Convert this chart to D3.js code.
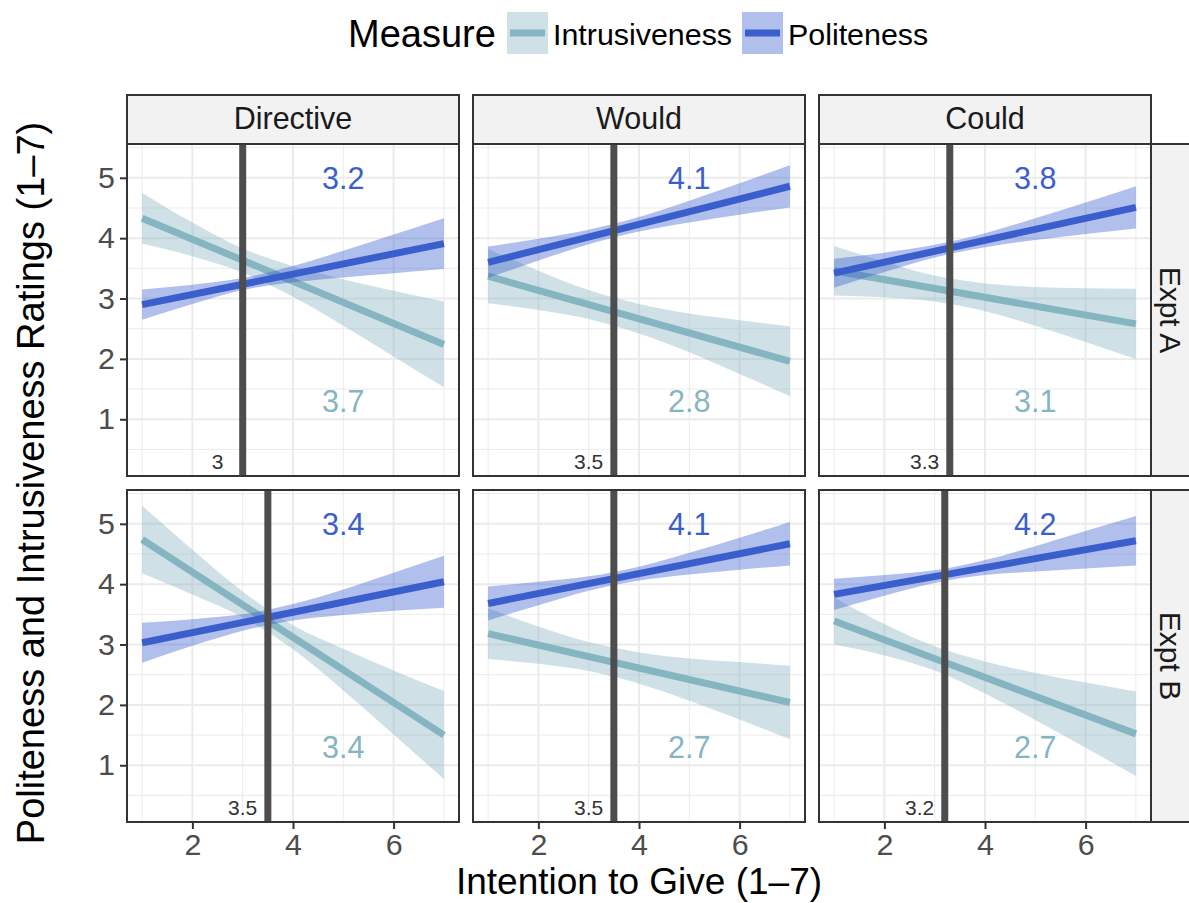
<!DOCTYPE html>
<html>
<head>
<meta charset="utf-8">
<script src="https://cdn.jsdelivr.net/npm/d3@7"></script>
<style>
  body { margin: 0; background: #fff; }
  svg text { font-family: "Liberation Sans", Arial, Helvetica, sans-serif; }
</style>
</head>
<body>
<svg id="chart"></svg>
<script>
// facets
const cols = ['Directive', 'Would', 'Could'];
const rows = ['Expt A', 'Expt B'];
const measures = ['Intrusiveness', 'Politeness'];

// x points for the smooth bands
const xPts = [1, 2, 3, 4, 5, 6, 7];

// panel order: A-Directive, A-Would, A-Could, B-Directive, B-Would, B-Could
// fitted line at x = 1 and x = 7
const polFit = [[2.90, 3.91], [3.60, 4.86], [3.42, 4.51], [3.03, 4.04], [3.68, 4.67], [3.83, 4.72]];
const intFit = [[4.33, 2.24], [3.37, 1.96], [3.46, 2.58], [4.74, 1.50], [3.18, 2.04], [3.39, 1.52]];

// confidence band, lower / upper at xPts
const polLo = [
  [2.65, 2.91, 3.14, 3.27, 3.35, 3.42, 3.49],
  [3.34, 3.63, 3.90, 4.11, 4.26, 4.39, 4.51],
  [3.18, 3.44, 3.68, 3.85, 3.97, 4.07, 4.16],
  [2.70, 2.98, 3.23, 3.40, 3.49, 3.56, 3.61],
  [3.40, 3.65, 3.89, 4.06, 4.16, 4.24, 4.31],
  [3.57, 3.81, 4.02, 4.15, 4.21, 4.26, 4.31]
];
const polHi = [
  [3.15, 3.23, 3.34, 3.54, 3.79, 4.06, 4.33],
  [3.86, 3.99, 4.14, 4.35, 4.62, 4.91, 5.21],
  [3.66, 3.76, 3.89, 4.08, 4.33, 4.59, 4.86],
  [3.36, 3.42, 3.50, 3.67, 3.91, 4.19, 4.47],
  [3.96, 4.04, 4.13, 4.29, 4.52, 4.77, 5.03],
  [4.09, 4.15, 4.23, 4.40, 4.63, 4.88, 5.13]
];
const intLo = [
  [3.91, 3.70, 3.43, 3.03, 2.55, 2.04, 1.53],
  [2.92, 2.81, 2.66, 2.42, 2.11, 1.75, 1.38],
  [3.05, 3.02, 2.95, 2.79, 2.55, 2.28, 2.00],
  [4.18, 3.83, 3.45, 2.92, 2.24, 1.51, 0.77],
  [2.76, 2.68, 2.56, 2.35, 2.07, 1.76, 1.43],
  [3.00, 2.82, 2.57, 2.19, 1.75, 1.29, 0.82]
];
const intHi = [
  [4.75, 4.26, 3.83, 3.54, 3.32, 3.13, 2.95],
  [3.82, 3.46, 3.14, 2.91, 2.75, 2.64, 2.54],
  [3.87, 3.61, 3.38, 3.25, 3.19, 3.17, 3.16],
  [5.30, 4.57, 3.88, 3.32, 2.93, 2.57, 2.23],
  [3.60, 3.30, 3.04, 2.87, 2.77, 2.71, 2.65],
  [3.78, 3.34, 2.97, 2.72, 2.53, 2.37, 2.22]
];

// vertical reference lines and text labels
const vline = [3, 3.5, 3.3, 3.5, 3.5, 3.2];
const polLabel = ['3.2', '4.1', '3.8', '3.4', '4.1', '4.2'];
const intLabel = ['3.7', '2.8', '3.1', '3.4', '2.7', '2.7'];
const polLabelPos = [5, 5];
const intLabelPos = [5, 1.3];
const vlineLabelY = 0.3;

const xTicks = [2, 4, 6];
const xMinor = [1, 3, 5, 7];
const yTicks = [1, 2, 3, 4, 5];
const yMinor = [0.5, 1.5, 2.5, 3.5, 4.5, 5.5];

const width = 1189;
const height = 903;
const panelW = 332;
const panelH = 332;
const colLeft = [127, 473, 819];
const rowTop = [144, 490];

const polColor = '#3A5FCD';
const intColor = '#86B5C2';

const svg = d3.select('#chart').attr('width', width).attr('height', height);

const xScale = d3.scaleLinear().domain([0.7, 7.3]).range([0, panelW]);
const yScale = d3.scaleLinear().domain([0.06, 5.56]).range([panelH, 0]);

const line = d3.line().x(d => xScale(d[0])).y(d => yScale(d[1]));
const area = d3.area()
  .x(d => xScale(d.x))
  .y0(d => yScale(d.lo))
  .y1(d => yScale(d.hi))
  .curve(d3.curveMonotoneX);

const bandData = (lo, hi) => xPts.map((x, i) => ({ x: x, lo: lo[i], hi: hi[i] }));

// strips on top
cols.forEach((c, j) => {
  const g = svg.append('g').attr('transform', `translate(${colLeft[j]},95)`);
  g.append('rect').attr('width', panelW).attr('height', 49)
    .attr('fill', '#F2F2F2').attr('stroke', '#333').attr('stroke-width', 2);
  g.append('text').attr('x', panelW / 2).attr('y', 34)
    .attr('text-anchor', 'middle').attr('font-size', 30.5).attr('fill', '#1A1A1A')
    .text(c);
});

// strips on the right
rows.forEach((r, i) => {
  const g = svg.append('g').attr('transform', `translate(1151,${rowTop[i]})`);
  g.append('rect').attr('width', 48).attr('height', panelH)
    .attr('fill', '#F2F2F2').attr('stroke', '#333').attr('stroke-width', 2);
  g.append('text').attr('transform', `translate(9,${panelH / 2}) rotate(90)`)
    .attr('text-anchor', 'middle').attr('font-size', 30).attr('fill', '#1A1A1A')
    .text(r);
});

rows.forEach((r, i) => {
  cols.forEach((c, j) => {
    const k = i * 3 + j;
    const g = svg.append('g').attr('transform', `translate(${colLeft[j]},${rowTop[i]})`);

    g.append('clipPath').attr('id', 'clip' + k)
      .append('rect').attr('width', panelW).attr('height', panelH);

    g.append('rect').attr('width', panelW).attr('height', panelH).attr('fill', '#fff');

    // grid
    g.selectAll('.xminor').data(xMinor).enter().append('line')
      .attr('x1', d => xScale(d)).attr('x2', d => xScale(d))
      .attr('y1', 0).attr('y2', panelH)
      .attr('stroke', '#EBEBEB').attr('stroke-width', 1);
    g.selectAll('.yminor').data(yMinor).enter().append('line')
      .attr('x1', 0).attr('x2', panelW)
      .attr('y1', d => yScale(d)).attr('y2', d => yScale(d))
      .attr('stroke', '#EBEBEB').attr('stroke-width', 1);
    g.selectAll('.xmajor').data(xTicks).enter().append('line')
      .attr('x1', d => xScale(d)).attr('x2', d => xScale(d))
      .attr('y1', 0).attr('y2', panelH)
      .attr('stroke', '#EBEBEB').attr('stroke-width', 2);
    g.selectAll('.ymajor').data(yTicks).enter().append('line')
      .attr('x1', 0).attr('x2', panelW)
      .attr('y1', d => yScale(d)).attr('y2', d => yScale(d))
      .attr('stroke', '#EBEBEB').attr('stroke-width', 2);

    const plot = g.append('g').attr('clip-path', `url(#clip${k})`);

    // intrusiveness
    plot.append('path').datum(bandData(intLo[k], intHi[k]))
      .attr('d', area).attr('fill', intColor).attr('fill-opacity', 0.4);
    plot.append('path').datum([[1, intFit[k][0]], [7, intFit[k][1]]])
      .attr('d', line).attr('stroke', intColor).attr('stroke-width', 7).attr('fill', 'none');

    // politeness
    plot.append('path').datum(bandData(polLo[k], polHi[k]))
      .attr('d', area).attr('fill', polColor).attr('fill-opacity', 0.4);
    plot.append('path').datum([[1, polFit[k][0]], [7, polFit[k][1]]])
      .attr('d', line).attr('stroke', polColor).attr('stroke-width', 7).attr('fill', 'none');

    // reference line
    plot.append('line')
      .attr('x1', xScale(vline[k])).attr('x2', xScale(vline[k]))
      .attr('y1', 0).attr('y2', panelH)
      .attr('stroke', '#4D4D4D').attr('stroke-width', 7);

    g.append('text')
      .attr('x', xScale(vline[k] - 0.5)).attr('y', yScale(vlineLabelY))
      .attr('dy', '0.36em').attr('text-anchor', 'middle')
      .attr('font-size', 21).attr('fill', '#333')
      .text(String(vline[k]));

    g.append('text')
      .attr('x', xScale(polLabelPos[0])).attr('y', yScale(polLabelPos[1]))
      .attr('dy', '0.36em').attr('text-anchor', 'middle')
      .attr('font-size', 30.5).attr('fill', polColor)
      .text(polLabel[k]);
    g.append('text')
      .attr('x', xScale(intLabelPos[0])).attr('y', yScale(intLabelPos[1]))
      .attr('dy', '0.36em').attr('text-anchor', 'middle')
      .attr('font-size', 30.5).attr('fill', intColor)
      .text(intLabel[k]);

    g.append('rect').attr('width', panelW).attr('height', panelH)
      .attr('fill', 'none').attr('stroke', '#333').attr('stroke-width', 2);

    // axes
    if (j === 0) {
      const yAxis = d3.axisLeft(yScale).tickValues(yTicks).tickFormat(d3.format('d'))
        .tickSize(7).tickPadding(5);
      const ax = g.append('g').call(yAxis);
      ax.select('.domain').remove();
      ax.selectAll('line').attr('stroke', '#333').attr('stroke-width', 2);
      ax.selectAll('text').attr('font-size', 30.4).attr('fill', '#4D4D4D');
    }
    if (i === 1) {
      const xAxis = d3.axisBottom(xScale).tickValues(xTicks).tickFormat(d3.format('d'))
        .tickSize(7).tickPadding(4);
      const ax = g.append('g').attr('transform', `translate(0,${panelH})`).call(xAxis);
      ax.select('.domain').remove();
      ax.selectAll('line').attr('stroke', '#333').attr('stroke-width', 2);
      ax.selectAll('text').attr('font-size', 30.4).attr('fill', '#4D4D4D');
    }
  });
});

// axis titles
svg.append('text')
  .attr('x', (colLeft[0] + colLeft[2] + panelW) / 2).attr('y', 894)
  .attr('text-anchor', 'middle').attr('font-size', 37).attr('fill', '#000')
  .text('Intention to Give (1\u20137)');

svg.append('text')
  .attr('transform', `translate(44,${(rowTop[0] + rowTop[1] + panelH) / 2}) rotate(-90)`)
  .attr('text-anchor', 'middle').attr('font-size', 38).attr('fill', '#000')
  .text('Politeness and Intrusiveness Ratings (1\u20137)');

// legend
const legend = svg.append('g');
legend.append('text').attr('x', 348).attr('y', 47)
  .attr('font-size', 38).attr('fill', '#000').text('Measure');

const legendX = [507, 742];
const legendColors = [intColor, polColor];
measures.forEach((m, i) => {
  const lg = legend.append('g').attr('transform', `translate(${legendX[i]},12)`);
  lg.append('rect').attr('width', 41).attr('height', 42)
    .attr('fill', legendColors[i]).attr('fill-opacity', 0.4);
  lg.append('line').attr('x1', 3).attr('x2', 38).attr('y1', 21).attr('y2', 21)
    .attr('stroke', legendColors[i]).attr('stroke-width', 7);
  lg.append('text').attr('x', 46).attr('y', 33)
    .attr('font-size', 30.4).attr('fill', '#000').text(m);
});
</script>
</body>
</html>
